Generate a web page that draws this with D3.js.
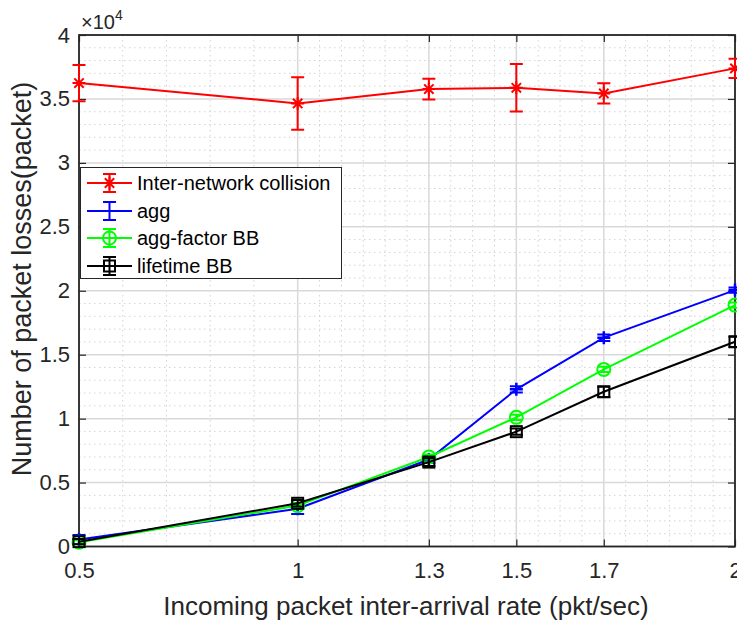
<!DOCTYPE html>
<html>
<head>
<meta charset="utf-8">
<script src="https://cdn.jsdelivr.net/npm/d3@7"></script>
<style>
  html, body { margin: 0; padding: 0; background: #fff; }
  svg { display: block; font-family: "Liberation Sans", Arial, Helvetica, sans-serif; }
</style>
</head>
<body>
<svg id="chart" width="737" height="622"></svg>
<script>
// ---- data ----
const xValues = [0.5, 1, 1.3, 1.5, 1.7, 2];
const xTickValues = [0.5, 1, 1.3, 1.5, 1.7, 2];
const xTickLabels = ["0.5", "1", "1.3", "1.5", "1.7", "2"];
const yTickValues = [0, 0.5, 1, 1.5, 2, 2.5, 3, 3.5, 4];
const yTickLabels = ["0", "0.5", "1", "1.5", "2", "2.5", "3", "3.5", "4"];
const seriesNames = ["Inter-network collision", "agg", "agg-factor BB", "lifetime BB"];
const collision    = [36240, 34650, 35770, 35870, 35430, 37390];
const collisionErr = [1420, 2050, 810, 1860, 790, 750];
const agg          = [550, 2950, 6800, 12290, 16330, 20050];
const aggErr       = [350, 400, 250, 250, 250, 200];
const aggFactor    = [330, 3200, 7000, 10100, 13850, 18880];
const aggFactorErr = [150, 200, 200, 200, 200, 200];
const lifetime     = [380, 3380, 6600, 8980, 12100, 16010];
const lifetimeErr  = [200, 250, 300, 250, 400, 400];

const series = [
  { name: seriesNames[0], values: collision, err: collisionErr, color: "#ff0000", marker: "star" },
  { name: seriesNames[1], values: agg, err: aggErr, color: "#0000ff", marker: "plus" },
  { name: seriesNames[2], values: aggFactor, err: aggFactorErr, color: "#00ff00", marker: "circle" },
  { name: seriesNames[3], values: lifetime, err: lifetimeErr, color: "#000000", marker: "square" }
];

// ---- layout ----
const L = 79, R = 735, T = 35, B = 546.5;
const svg = d3.select("#chart");
const x = d3.scaleLinear().domain([0.5, 2]).range([L, R]);
const y = d3.scaleLinear().domain([0, 40000]).range([B, T]);
const yk = d3.scaleLinear().domain([0, 4]).range([B, T]);

// minor grid
const minorX = d3.range(0.6, 0.999, 0.1).concat(d3.range(1.05, 1.999, 0.05))
  .filter(v => !xTickValues.some(t => Math.abs(t - v) < 1e-6));
const minorY = d3.range(0.1, 4, 0.1).filter(v => Math.abs(v * 2 - Math.round(v * 2)) > 1e-6);

const grid = svg.append("g");
grid.selectAll(".mx").data(minorX).enter().append("line")
  .attr("x1", d => x(d)).attr("x2", d => x(d)).attr("y1", T).attr("y2", B)
  .attr("stroke", "#d3d3d3").attr("stroke-width", 1).attr("stroke-dasharray", "1.5,3.5");
grid.selectAll(".my").data(minorY).enter().append("line")
  .attr("x1", L).attr("x2", R).attr("y1", d => yk(d)).attr("y2", d => yk(d))
  .attr("stroke", "#d3d3d3").attr("stroke-width", 1).attr("stroke-dasharray", "1.5,3.5");
grid.selectAll(".gx").data(xTickValues).enter().append("line")
  .attr("x1", d => x(d)).attr("x2", d => x(d)).attr("y1", T).attr("y2", B)
  .attr("stroke", "#d9d9d9").attr("stroke-width", 1.5);
grid.selectAll(".gy").data(yTickValues).enter().append("line")
  .attr("x1", L).attr("x2", R).attr("y1", d => yk(d)).attr("y2", d => yk(d))
  .attr("stroke", "#d9d9d9").attr("stroke-width", 1.5);

// axes with inward ticks (box on)
const axisColor = "#262626";
function styleAxis(g) {
  g.select(".domain").remove();
  g.selectAll(".tick line").attr("stroke", axisColor).attr("stroke-width", 1.2);
  g.selectAll(".tick text").attr("fill", "#262626").style("font-size", "22px")
    .style("font-family", "'Liberation Sans', Arial, sans-serif");
}
const xAxis = svg.append("g").attr("transform", `translate(0,${B})`)
  .call(d3.axisBottom(x).tickValues(xTickValues).tickFormat((d, i) => xTickLabels[i]).tickSizeInner(-7).tickPadding(16));
styleAxis(xAxis);
xAxis.selectAll(".tick text").attr("dy", "0.71em");
const xAxisTop = svg.append("g").attr("transform", `translate(0,${T})`)
  .call(d3.axisTop(x).tickValues(xTickValues).tickFormat("").tickSizeInner(-7));
styleAxis(xAxisTop);
const yAxis = svg.append("g").attr("transform", `translate(${L},0)`)
  .call(d3.axisLeft(yk).tickValues(yTickValues).tickFormat((d, i) => yTickLabels[i]).tickSizeInner(-7).tickPadding(9));
styleAxis(yAxis);
const yAxisR = svg.append("g").attr("transform", `translate(${R},0)`)
  .call(d3.axisRight(yk).tickValues(yTickValues).tickFormat("").tickSizeInner(-7));
styleAxis(yAxisR);

svg.append("rect").attr("x", L).attr("y", T).attr("width", R - L).attr("height", B - T)
  .attr("fill", "none").attr("stroke", axisColor).attr("stroke-width", 1.8);

// exponent label
const ex = svg.append("text").attr("x", 81).attr("y", 29).attr("fill", "#262626").style("font-size", "20px");
ex.append("tspan").text("×10");
ex.append("tspan").attr("dy", -9).style("font-size", "14px").text("4");

// axis titles
svg.append("text").attr("x", 406).attr("y", 615).attr("text-anchor", "middle")
  .attr("fill", "#262626").style("font-size", "26px").text("Incoming packet inter-arrival rate (pkt/sec)");
svg.append("text").attr("transform", `translate(31,279) rotate(-90)`).attr("text-anchor", "middle")
  .attr("fill", "#262626").style("font-size", "27px").text("Number of packet losses(packet)");

// markers
function drawMarker(g, type, cx, cy, color) {
  const sw = 2;
  if (type === "star") {
    const s = 6.5;
    g.append("path").attr("d",
      `M${cx - s},${cy}L${cx + s},${cy}M${cx},${cy - s}L${cx},${cy + s}` +
      `M${cx - s * 0.72},${cy - s * 0.72}L${cx + s * 0.72},${cy + s * 0.72}M${cx - s * 0.72},${cy + s * 0.72}L${cx + s * 0.72},${cy - s * 0.72}`)
      .attr("stroke", color).attr("stroke-width", sw).attr("fill", "none");
  } else if (type === "plus") {
    const s = 6.5;
    g.append("path").attr("d", `M${cx - s},${cy}L${cx + s},${cy}M${cx},${cy - s}L${cx},${cy + s}`)
      .attr("stroke", color).attr("stroke-width", sw + 0.5).attr("fill", "none");
  } else if (type === "circle") {
    g.append("circle").attr("cx", cx).attr("cy", cy).attr("r", 6.5)
      .attr("stroke", color).attr("stroke-width", sw).attr("fill", "none");
  } else if (type === "square") {
    const s = 5.5;
    g.append("rect").attr("x", cx - s).attr("y", cy - s).attr("width", 2 * s).attr("height", 2 * s)
      .attr("stroke", color).attr("stroke-width", sw).attr("fill", "none");
  }
}

const line = d3.line().x((d, i) => x(xValues[i])).y(d => y(d));
const cap = 6.5;
series.forEach(s => {
  const g = svg.append("g");
  g.append("path").datum(s.values).attr("d", line).attr("fill", "none")
    .attr("stroke", s.color).attr("stroke-width", 2);
  s.values.forEach((v, i) => {
    const cx = x(xValues[i]);
    const y1 = y(v - s.err[i]), y2 = y(v + s.err[i]);
    g.append("path").attr("d",
      `M${cx},${y1}L${cx},${y2}M${cx - cap},${y1}L${cx + cap},${y1}M${cx - cap},${y2}L${cx + cap},${y2}`)
      .attr("stroke", s.color).attr("stroke-width", 2).attr("fill", "none");
    drawMarker(g, s.marker, cx, y(v), s.color);
  });
});

// legend
const lg = svg.append("g");
lg.append("rect").attr("x", 80.5).attr("y", 167.5).attr("width", 261).attr("height", 111)
  .attr("fill", "#fff").attr("stroke", "#262626").attr("stroke-width", 1);
const legendY = [183, 211, 238, 266];
series.forEach((s, i) => {
  const ly = legendY[i];
  lg.append("line").attr("x1", 87).attr("x2", 132).attr("y1", ly).attr("y2", ly)
    .attr("stroke", s.color).attr("stroke-width", 2);
  const cx = 109.5;
  lg.append("path").attr("d",
    `M${cx},${ly - 9}L${cx},${ly + 9}M${cx - cap},${ly - 9}L${cx + cap},${ly - 9}M${cx - cap},${ly + 9}L${cx + cap},${ly + 9}`)
    .attr("stroke", s.color).attr("stroke-width", 2).attr("fill", "none");
  if (s.marker !== "plus") drawMarker(lg, s.marker, cx, ly, s.color);
  lg.append("text").attr("x", 137).attr("y", ly).attr("dy", "0.35em").attr("fill", "#000")
    .style("font-size", "20px").text(s.name);
});
</script>
</body>
</html>
